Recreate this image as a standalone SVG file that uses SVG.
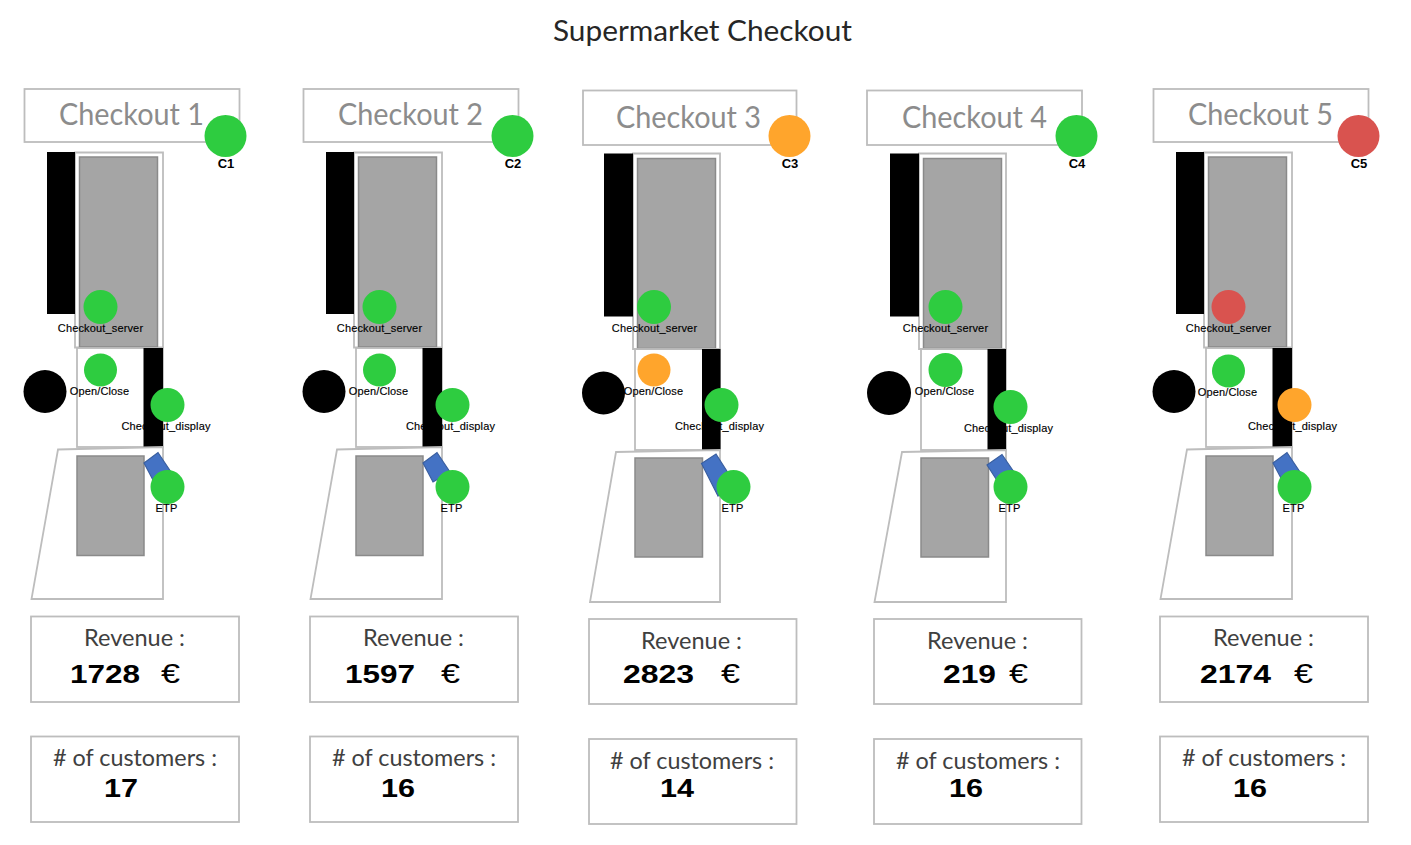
<svg xmlns="http://www.w3.org/2000/svg" width="1411" height="845" viewBox="0 0 1411 845">
<style>
.box{fill:#fff;stroke:#bdbdbd;stroke-width:1.8}
.frame{fill:none;stroke:#bdbdbd;stroke-width:1.8}
.gray{fill:#a5a5a5;stroke:#8a8a8a;stroke-width:1.5}
.blue{fill:#4472c4;stroke:#3a5f9f;stroke-width:1.2}
.bk{fill:#000}
.g{fill:#2ecc40}.o{fill:#ffa52c}.r{fill:#d9534f}
.title{font-family:"Lato","Open Sans",sans-serif;font-size:30px;fill:#8c8c8c}
.main{font-family:"Lato","Open Sans",sans-serif;font-size:29px;fill:#262626}
.cap{font-family:"Lato","Open Sans",sans-serif;font-size:23px;fill:#404040}
.num{font-family:"Liberation Sans",Arial,sans-serif;font-weight:700;font-size:25px;fill:#000}
.eur{font-family:"Liberation Sans",Arial,sans-serif;font-size:27px;fill:#000}
.lab{font-family:"Liberation Sans",Arial,sans-serif;font-size:11px;letter-spacing:.15px;fill:#000;stroke:#000;stroke-width:.15;text-anchor:middle}
.cid{font-family:"Liberation Sans",Arial,sans-serif;font-weight:700;font-size:13px;fill:#000;text-anchor:middle}
</style>
<defs>
<g id="station">
<rect class="box" x="24.500" y="89" width="215" height="53"/>
<path class="frame" d="M75 152.500H163V347.500H75Z"/>
<rect class="gray" x="79.500" y="157" width="78" height="190"/>
<rect class="bk" x="47" y="152" width="28" height="162"/>
<rect class="frame" x="77" y="348" width="86" height="99"/>
<rect class="bk" x="143.500" y="348" width="19.500" height="99.500"/>
<path class="frame" d="M58 449.500L163 447V599H31.500Z"/>
<rect class="gray" x="77" y="456" width="67" height="99.500"/>
<path class="blue" d="M144 463L158 452.500L171 472L154 482Z"/>
</g>
<g id="stats">
<rect class="box" x="31" y="616.500" width="208" height="85.500"/>
<rect class="box" x="31" y="736.500" width="208" height="85.500"/>
</g>
<g id="stats-low">
<rect class="box" x="31" y="619" width="207.500" height="85"/>
<rect class="box" x="31" y="739" width="207.500" height="85"/>
</g>
</defs>
<text class="main" x="702.500" y="41" text-anchor="middle" textLength="299" lengthAdjust="spacingAndGlyphs">Supermarket Checkout</text>
<g id="connectors"/>

<g id="checkout-1">
<use href="#station"/><use href="#stats"/>
<text class="title" x="59" y="125" textLength="145" lengthAdjust="spacingAndGlyphs">Checkout 1</text>
<circle class="g" cx="225.500" cy="136" r="21"/><text class="cid" x="226" y="167.500">C1</text>
<text class="lab" x="100.500" y="332">Checkout_server</text><circle class="g" cx="100.500" cy="307" r="17"/>
<circle cx="45" cy="391.500" r="21.500" class="bk"/>
<circle class="g" cx="100.500" cy="370" r="16.500"/><text class="lab" x="99.500" y="395">Open/Close</text>
<text class="lab" x="166" y="430">Checkout_display</text><circle class="g" cx="167.500" cy="405" r="17"/>
<circle class="g" cx="167.500" cy="487" r="17"/><text class="lab" x="166.500" y="512">ETP</text>
<text class="cap" x="84" y="646" textLength="101" lengthAdjust="spacingAndGlyphs">Revenue :</text>
<text class="num" x="70" y="683" textLength="70" lengthAdjust="spacingAndGlyphs">1728</text><text class="eur" x="161" y="683" textLength="19" lengthAdjust="spacingAndGlyphs">€</text>
<text class="cap" x="53" y="766" textLength="164" lengthAdjust="spacingAndGlyphs"># of customers :</text>
<text class="num" x="104" y="797" textLength="34" lengthAdjust="spacingAndGlyphs">17</text>
</g>

<g id="checkout-2">
<use href="#station" x="279"/><use href="#stats" x="279"/>
<text class="title" x="338" y="125" textLength="145" lengthAdjust="spacingAndGlyphs">Checkout 2</text>
<circle class="g" cx="512.500" cy="136" r="21"/><text class="cid" x="513" y="167.500">C2</text>
<text class="lab" x="379.500" y="332">Checkout_server</text><circle class="g" cx="379.500" cy="307" r="17"/>
<circle cx="324" cy="391.500" r="21.500" class="bk"/>
<circle class="g" cx="379.500" cy="370" r="16.500"/><text class="lab" x="378.500" y="395">Open/Close</text>
<text class="lab" x="450.500" y="430">Checkout_display</text><circle class="g" cx="452.500" cy="405" r="17"/>
<circle class="g" cx="452.500" cy="487" r="17"/><text class="lab" x="451.500" y="512">ETP</text>
<text class="cap" x="363" y="646" textLength="101" lengthAdjust="spacingAndGlyphs">Revenue :</text>
<text class="num" x="345" y="683" textLength="70" lengthAdjust="spacingAndGlyphs">1597</text><text class="eur" x="441" y="683" textLength="19" lengthAdjust="spacingAndGlyphs">€</text>
<text class="cap" x="332" y="766" textLength="164" lengthAdjust="spacingAndGlyphs"># of customers :</text>
<text class="num" x="381" y="797" textLength="34" lengthAdjust="spacingAndGlyphs">16</text>
</g>

<g id="checkout-3">
<rect class="box" x="583" y="90.500" width="213.500" height="54.500"/>
<path class="frame" d="M633 153.500H720V349H633Z"/>
<rect class="gray" x="637.500" y="158.500" width="78" height="190"/>
<rect class="bk" x="604" y="153.500" width="29" height="163"/>
<rect class="frame" x="635" y="349" width="85" height="101"/>
<rect class="bk" x="702" y="349" width="18.500" height="101"/>
<path class="frame" d="M616 452L720 450V602H590Z"/>
<rect class="gray" x="635" y="458" width="67.500" height="99"/>
<path class="blue" d="M701.500 463.500L716 454L730 476L718 496Z"/>
<use href="#stats-low" x="558"/>
<text class="title" x="616" y="128" textLength="145" lengthAdjust="spacingAndGlyphs">Checkout 3</text>
<circle class="o" cx="789.500" cy="136" r="21"/><text class="cid" x="790" y="167.500">C3</text>
<text class="lab" x="654.500" y="332">Checkout_server</text><circle class="g" cx="654" cy="307" r="17"/>
<circle cx="603.500" cy="393" r="21.500" class="bk"/>
<circle class="o" cx="654" cy="370" r="16.500"/><text class="lab" x="653.500" y="395">Open/Close</text>
<text class="lab" x="719.500" y="430">Checkout_display</text><circle class="g" cx="721.500" cy="405" r="17"/>
<circle class="g" cx="733.500" cy="487" r="17"/><text class="lab" x="732.500" y="512">ETP</text>
<text class="cap" x="641" y="649" textLength="101" lengthAdjust="spacingAndGlyphs">Revenue :</text>
<text class="num" x="623" y="683" textLength="71" lengthAdjust="spacingAndGlyphs">2823</text><text class="eur" x="721" y="683" textLength="19" lengthAdjust="spacingAndGlyphs">€</text>
<text class="cap" x="610" y="769" textLength="164" lengthAdjust="spacingAndGlyphs"># of customers :</text>
<text class="num" x="660" y="797" textLength="34" lengthAdjust="spacingAndGlyphs">14</text>
</g>

<g id="checkout-4">
<rect class="box" x="867" y="90.500" width="215" height="54.500"/>
<path class="frame" d="M919 153.500H1006V349H919Z"/>
<rect class="gray" x="923.500" y="158.500" width="78" height="190"/>
<rect class="bk" x="890" y="153.500" width="29" height="163"/>
<rect class="frame" x="921" y="349" width="85" height="101"/>
<rect class="bk" x="987.500" y="349" width="18.500" height="101"/>
<path class="frame" d="M902 452L1006 450V602H874.500Z"/>
<rect class="gray" x="921" y="458" width="67.500" height="99"/>
<path class="blue" d="M987 465L1002 454.500L1014 472L998 482Z"/>
<use href="#stats-low" x="843"/>
<text class="title" x="902" y="128" textLength="145" lengthAdjust="spacingAndGlyphs">Checkout 4</text>
<circle class="g" cx="1076.500" cy="136" r="21"/><text class="cid" x="1077" y="167.500">C4</text>
<text class="lab" x="945.500" y="332">Checkout_server</text><circle class="g" cx="945.500" cy="307" r="17"/>
<circle cx="889" cy="393" r="22" class="bk"/>
<circle class="g" cx="945.500" cy="370" r="17"/><text class="lab" x="944.500" y="395">Open/Close</text>
<text class="lab" x="1008.500" y="432">Checkout_display</text><circle class="g" cx="1010.500" cy="407" r="17"/>
<circle class="g" cx="1010.500" cy="487" r="17"/><text class="lab" x="1009.500" y="512">ETP</text>
<text class="cap" x="927" y="649" textLength="101" lengthAdjust="spacingAndGlyphs">Revenue :</text>
<text class="num" x="943" y="683" textLength="53" lengthAdjust="spacingAndGlyphs">219</text><text class="eur" x="1009" y="683" textLength="19" lengthAdjust="spacingAndGlyphs">€</text>
<text class="cap" x="896" y="769" textLength="164" lengthAdjust="spacingAndGlyphs"># of customers :</text>
<text class="num" x="949" y="797" textLength="34" lengthAdjust="spacingAndGlyphs">16</text>
</g>

<g id="checkout-5">
<use href="#station" x="1129"/><use href="#stats" x="1129"/>
<text class="title" x="1188" y="125" textLength="145" lengthAdjust="spacingAndGlyphs">Checkout 5</text>
<circle class="r" cx="1358.500" cy="136" r="21"/><text class="cid" x="1359" y="167.500">C5</text>
<text class="lab" x="1228.500" y="332">Checkout_server</text><circle class="r" cx="1228.500" cy="307" r="17"/>
<circle cx="1174" cy="391.500" r="21.500" class="bk"/>
<circle class="g" cx="1228.500" cy="371" r="16.500"/><text class="lab" x="1227.500" y="396">Open/Close</text>
<text class="lab" x="1292.500" y="430">Checkout_display</text><circle class="o" cx="1294.500" cy="405" r="17"/>
<circle class="g" cx="1294.500" cy="487" r="17"/><text class="lab" x="1293.500" y="512">ETP</text>
<text class="cap" x="1213" y="646" textLength="101" lengthAdjust="spacingAndGlyphs">Revenue :</text>
<text class="num" x="1200" y="683" textLength="71" lengthAdjust="spacingAndGlyphs">2174</text><text class="eur" x="1294" y="683" textLength="19" lengthAdjust="spacingAndGlyphs">€</text>
<text class="cap" x="1182" y="766" textLength="164" lengthAdjust="spacingAndGlyphs"># of customers :</text>
<text class="num" x="1233" y="797" textLength="34" lengthAdjust="spacingAndGlyphs">16</text>
</g>
</svg>
